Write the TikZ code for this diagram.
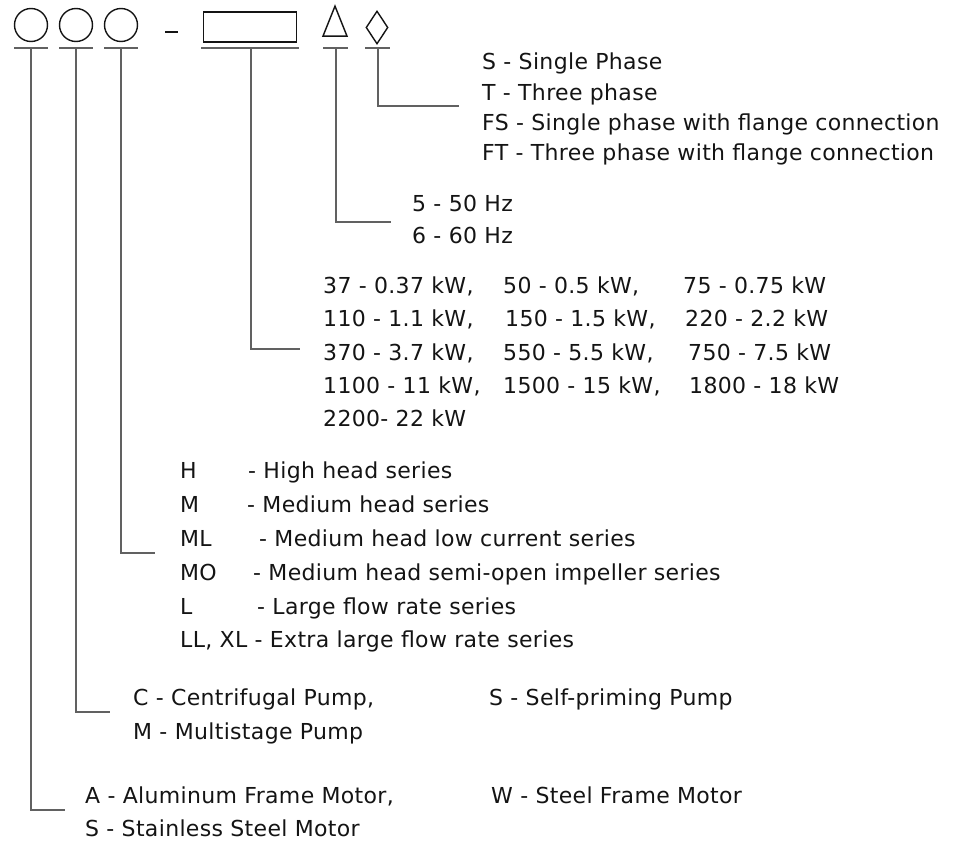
\documentclass[tikz,border=0pt]{standalone}
\usepackage{fontspec}
\newfontfamily\codefont{DejaVu Sans}[LetterSpace=1.5]
\usepackage{tikz}
\usetikzlibrary{shapes.geometric}
\usepackage{xcolor}
\definecolor{leadgray}{rgb}{0.38, 0.38, 0.38}
\definecolor{inkblack}{rgb}{0.08, 0.08, 0.08}

\begin{document}
\begin{tikzpicture}[x=1pt, y=-1pt,
		slot/.style={draw=inkblack, line width=1.4pt, inner sep=0pt},
		slotcircle/.style={slot, circle, minimum size=33pt},
		slotbox/.style={slot, rectangle, minimum width=93pt, minimum height=30pt},
		slottri/.style={slot, isosceles triangle, isosceles triangle stretches, shape border rotate=90, minimum width=24pt, minimum height=30pt},
		slotdiamond/.style={slot, diamond, minimum width=22pt, minimum height=33pt},
		bar/.style={leadgray, line width=1.6pt},
		lead/.style={leadgray, line width=1.5pt},
		code/.style={anchor=base west, inner sep=0pt, text=inkblack, font=\codefont\fontsize{22}{26}\selectfont}
	]
	\path[use as bounding box] (0,0) rectangle (978,851);

	% --- Code slots across the top ---
	\node[slotcircle] (motor) at (31,25) {};
	\node[slotcircle] (pump) at (76,25) {};
	\node[slotcircle] (series) at (121,25) {};
	\draw[inkblack, line width=2.6pt] (165,32) -- (178,32);
	\node[slotbox] (power) at (250,27) {};
	\node[slottri] (freq) at (335,28) {};
	\node[slotdiamond] (phase) at (377,27.5) {};

	% --- Bars under the slots (y = 48) ---
	\coordinate (motor_bar) at (31,48);
	\coordinate (pump_bar) at (76,48);
	\coordinate (series_bar) at (121,48);
	\coordinate (power_bar) at (251,48);
	\coordinate (freq_bar) at (336,48);
	\coordinate (phase_bar) at (378,48);
	\draw[bar] (14,48) -- (48,48);
	\draw[bar] (59,48) -- (93,48);
	\draw[bar] (104,48) -- (138,48);
	\draw[bar] (201,48) -- (299,48);
	\draw[bar] (323,48) -- (348,48);
	\draw[bar] (365,48) -- (390,48);

	% --- Phase ---
	\node[code] (ph_s) at (482,70) {S - Single Phase};
	\node[code] (ph_t) at (482,100) {T - Three phase};
	\node[code] (ph_fs) at (482,130) {FS - Single phase with flange connection};
	\node[code] (ph_ft) at (482,160) {FT - Three phase with flange connection};
	\coordinate (phase_end) at (459,106);

	% --- Frequency ---
	\node[code] (hz_5) at (412,211) {5 - 50 Hz};
	\node[code] (hz_6) at (412,243) {6 - 60 Hz};
	\coordinate (freq_end) at (391,222);

	% --- Power ---
	\node[code] (kw_37) at (323,293) {37 - 0.37 kW,};
	\node[code] (kw_50) at (503,293) {50 - 0.5 kW,};
	\node[code] (kw_75) at (683,293) {75 - 0.75 kW};
	\node[code] (kw_110) at (323,326) {110 - 1.1 kW,};
	\node[code] (kw_150) at (505,326) {150 - 1.5 kW,};
	\node[code] (kw_220) at (685,326) {220 - 2.2 kW};
	\node[code] (kw_370) at (323,360) {370 - 3.7 kW,};
	\node[code] (kw_550) at (503,360) {550 - 5.5 kW,};
	\node[code] (kw_750) at (688,360) {750 - 7.5 kW};
	\node[code] (kw_1100) at (323,393) {1100 - 11 kW,};
	\node[code] (kw_1500) at (503,393) {1500 - 15 kW,};
	\node[code] (kw_1800) at (689,393) {1800 - 18 kW};
	\node[code] (kw_2200) at (323,426) {2200- 22 kW};
	\coordinate (power_end) at (300,349);

	% --- Series ---
	\node[code] (s_h) at (180,478) {H};
	\node[code] (s_h_txt) at (248,478) {- High head series};
	\node[code] (s_m) at (180,512) {M};
	\node[code] (s_m_txt) at (247,512) {- Medium head series};
	\node[code] (s_ml) at (180,546) {ML};
	\node[code] (s_ml_txt) at (259,546) {- Medium head low current series};
	\node[code] (s_mo) at (180,580) {MO};
	\node[code] (s_mo_txt) at (253,580) {- Medium head semi-open impeller series};
	\node[code] (s_l) at (180,614) {L};
	\node[code] (s_l_txt) at (257,614) {- Large flow rate series};
	\node[code] (s_ll) at (180,647) {LL, XL - Extra large flow rate series};
	\coordinate (series_end) at (155,553);

	% --- Pump ---
	\node[code] (p_c) at (133,705) {C - Centrifugal Pump,};
	\node[code] (p_s) at (489,705) {S - Self-priming Pump};
	\node[code] (p_m) at (133,739) {M - Multistage Pump};
	\coordinate (pump_end) at (110,712);

	% --- Motor ---
	\node[code] (m_a) at (85,803) {A - Aluminum Frame Motor,};
	\node[code] (m_w) at (491,803) {W - Steel Frame Motor};
	\node[code] (m_s) at (85,836) {S - Stainless Steel Motor};
	\coordinate (motor_end) at (65,810);

	% --- Leads ---
	\draw[lead] (phase_bar) |- (phase_end);
	\draw[lead] (freq_bar) |- (freq_end);
	\draw[lead] (power_bar) |- (power_end);
	\draw[lead] (series_bar) |- (series_end);
	\draw[lead] (pump_bar) |- (pump_end);
	\draw[lead] (motor_bar) |- (motor_end);

\end{tikzpicture}
\end{document}
